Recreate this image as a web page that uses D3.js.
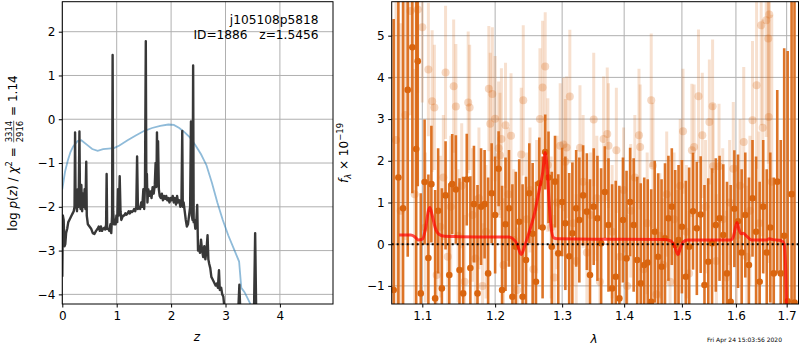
<!DOCTYPE html>
<html>
<head>
<meta charset="utf-8">
<script src="https://cdn.jsdelivr.net/npm/d3@7"></script>
<style>
  body { margin: 0; background: #fff; }
  text { font-family: "DejaVu Sans", sans-serif; }
</style>
</head>
<body>
<script>
// p(z) panel
var pzZ = [0.000,0.010,0.025,0.040,0.055,0.070,0.090,0.110,0.130,0.150,0.170,0.190,0.210,0.225,0.235,0.245,0.255,0.270,0.285,0.300,
  0.315,0.325,0.335,0.350,0.365,0.380,0.395,0.410,0.425,0.440,0.450,0.470,0.500,0.530,0.560,0.590,0.620,0.650,0.670,0.690,
  0.710,0.730,0.750,0.770,0.790,0.805,0.815,0.825,0.845,0.865,0.885,0.900,0.915,0.925,0.935,0.950,0.965,0.980,0.995,1.010,
  1.025,1.040,1.055,1.070,1.085,1.100,1.120,1.140,1.160,1.180,1.200,1.220,1.240,1.260,1.280,1.300,1.320,1.340,1.360,1.375,
  1.390,1.410,1.430,1.450,1.470,1.490,1.505,1.520,1.535,1.545,1.555,1.565,1.580,1.600,1.620,1.640,1.660,1.680,1.700,1.715,
  1.730,1.740,1.750,1.760,1.775,1.790,1.810,1.830,1.850,1.870,1.890,1.910,1.930,1.950,1.970,1.990,2.010,2.030,2.050,2.070,
  2.090,2.110,2.130,2.150,2.170,2.190,2.205,2.215,2.230,2.250,2.270,2.290,2.310,2.330,2.350,2.365,2.380,2.395,2.405,2.415,
  2.430,2.445,2.465,2.480,2.495,2.510,2.530,2.550,2.570,2.590,2.610,2.630,2.650,2.670,2.685,2.700,2.720,2.740,2.760,2.780,
  2.800,2.820,2.840,2.860,2.880,2.895,2.920,2.940,2.960,2.980,3.000,3.100,3.200,3.230,3.255,3.275,3.300,3.400,3.500,3.525,
  3.545,3.565,3.600,3.700];
var pzLog = [-3.6,-2.2,-2.3,-2.9,-2.85,-2.6,-2.5,-2.35,-2.3,-2.25,-2.2,-2.15,-2.1,-2.0,-0.3,-2.0,-1.9,-2.1,-1.6,-2.0,
  -0.28,-1.8,-2.05,-1.5,-2.1,-1.7,-2.0,-1.6,-2.05,-0.97,-2.2,-2.4,-2.45,-2.5,-2.6,-2.62,-2.55,-2.5,-2.45,-2.55,
  -2.45,-2.55,-2.5,-2.48,-2.52,-2.4,-1.25,-2.5,-2.5,-2.55,-2.4,-2.6,-2.2,1.47,-2.1,-2.4,-2.3,-2.4,-2.2,-2.35,
  -1.6,-2.2,-1.3,-2.1,-2.3,-2.25,-2.2,-2.2,-2.15,-2.18,-2.15,-2.1,-2.15,-2.1,-2.12,-2.1,-2.05,-2.1,-2.0,-0.85,
  -2.05,-2.0,-2.05,-1.9,-2.0,-1.6,-2.05,-1.5,1.78,-1.6,-1.25,-1.9,-1.6,-1.75,-1.65,-1.8,-1.55,-1.7,-1.5,-1.0,
  -1.55,-0.3,-1.3,-0.5,-1.6,-1.75,-1.8,-1.7,-1.85,-1.75,-1.82,-1.75,-1.85,-1.8,-1.9,-1.8,-1.85,-1.75,-1.9,-1.8,
  -1.95,-1.75,-1.9,-1.85,-2.0,-1.95,-0.27,-2.0,-1.9,-2.1,-2.3,-2.45,-2.4,-2.2,-2.0,-0.05,-2.2,-2.3,1.23,-2.35,
  -2.3,-2.5,-2.3,-1.96,-3.0,-2.9,-3.05,-2.75,-3.0,-3.15,-2.9,-3.2,-3.0,-2.65,-3.2,-3.3,-3.4,-3.6,-3.65,-3.7,
  -3.75,-3.8,-3.75,-3.85,-3.45,-3.9,-3.85,-4.0,-4.05,-4.3,-4.8,-5.0,-4.9,-4.5,-3.78,-4.5,-4.8,-4.9,-4.4,-4.3,
  -2.6,-4.5,-5.0,-5.5];
var priorZ = [0.00,0.05,0.10,0.15,0.20,0.28,0.35,0.45,0.55,0.65,0.75,0.85,0.95,1.05,1.20,1.35,1.50,1.65,1.80,1.95,
  2.05,2.15,2.25,2.35,2.45,2.55,2.65,2.75,2.85,2.95,3.05,3.15,3.25,3.29,3.35,3.45,3.55];
var priorLog = [-1.6,-1.2,-0.95,-0.75,-0.62,-0.5,-0.48,-0.58,-0.68,-0.72,-0.68,-0.67,-0.66,-0.6,-0.48,-0.37,-0.27,-0.2,-0.15,-0.12,
  -0.13,-0.2,-0.3,-0.42,-0.6,-0.8,-1.05,-1.45,-1.9,-2.3,-2.65,-2.95,-3.25,-3.85,-3.95,-4.2,-4.5];
var zTicks = [0, 1, 2, 3, 4];
var pzTicks = [-4, -3, -2, -1, 0, 1, 2];

// spectrum panel
var darkWave = [1.063,1.069,1.075,1.081,1.087,1.092,1.094,1.098,1.103,1.108,1.112,1.117,1.121,1.126,1.131,1.136,1.140,1.145,1.150,1.155,
  1.160,1.165,1.170,1.175,1.180,1.185,1.190,1.195,1.200,1.205,1.210,1.215,1.220,1.225,1.230,1.235,1.240,1.245,1.250,1.255,
  1.260,1.265,1.270,1.274,1.279,1.284,1.289,1.294,1.300,1.305,1.311,1.316,1.322,1.327,1.333,1.339,1.344,1.350,1.356,1.362,
  1.368,1.374,1.380,1.386,1.392,1.398,1.404,1.410,1.416,1.422,1.428,1.434,1.440,1.446,1.452,1.458,1.464,1.470,1.476,1.482,
  1.488,1.494,1.500,1.507,1.513,1.520,1.527,1.534,1.541,1.548,1.555,1.562,1.569,1.576,1.583,1.590,1.597,1.604,1.611,1.618,
  1.625,1.632,1.639,1.646,1.653,1.660,1.667,1.674,1.681,1.688,1.695,1.702,1.710,1.716];
var darkFlux = [-1.10,1.60,0.86,3.70,4.72,2.28,4.39,-1.18,1.49,-0.33,1.44,-1.30,0.80,-1.06,1.17,-0.74,1.44,1.31,-0.62,-1.18,
  1.55,-0.57,0.96,-1.18,0.90,0.96,-0.70,1.22,0.70,1.81,-1.10,0.48,0.86,-1.26,-0.06,0.54,-1.26,-0.38,1.22,0.25,
  -0.90,1.46,0.40,2.21,1.60,-0.06,1.50,-0.22,1.01,0.50,-0.29,0.26,0.86,0.58,1.17,0.78,-0.74,0.90,0.62,0.02,
  1.25,0.46,-1.06,-0.78,-1.30,0.58,-0.34,1.01,0.46,-0.38,-0.94,-0.50,-0.44,-1.38,0.30,-0.30,-0.54,0.14,0.62,0.90,
  -0.02,0.10,0.42,-0.78,-0.06,0.79,0.38,0.71,-0.98,-0.42,0.02,0.46,0.62,0.22,-0.70,-1.38,0.85,0.55,-0.20,0.70,
  -0.50,1.10,0.30,-0.90,0.90,-0.20,0.40,-0.70,1.50,-0.70,0.20,-1.37,1.20,-1.40];
var darkErr = [6.5,5.5,5.0,4.0,3.5,4.0,3.0,2.4,1.5,2.0,1.4,2.6,1.5,2.4,1.3,2.2,1.2,1.3,2.2,2.8,
  1.1,2.2,1.4,2.6,1.4,1.3,2.3,1.2,1.4,0.9,2.5,1.6,1.4,2.7,1.8,1.5,2.7,2.0,1.2,1.7,
  2.4,1.1,1.7,0.9,1.1,1.8,1.1,1.9,1.3,1.6,2.0,1.7,1.4,1.5,1.2,1.4,2.3,1.4,1.5,1.8,
  1.1,1.6,2.5,2.3,2.7,1.5,2.1,1.3,1.6,2.0,2.4,2.1,2.0,2.7,1.7,2.0,2.1,1.8,1.5,1.4,
  1.8,1.8,1.6,2.3,1.9,1.4,1.6,1.4,2.4,2.0,1.8,1.6,1.5,1.7,2.2,2.8,1.4,1.6,2.0,1.5,
  2.1,1.4,1.8,2.4,1.6,2.0,1.8,2.3,2.2,3.2,4.5,6.0,7.0,8.0];

var lightWave = [1.066,1.072,1.078,1.0846,1.090,1.094,1.100,1.104,1.108,1.113,1.116,1.119,1.124,1.128,1.131,1.134,1.138,1.142,1.145,1.148,
  1.153,1.157,1.162,1.164,1.168,1.172,1.177,1.182,1.187,1.191,1.193,1.196,1.200,1.205,1.207,1.209,1.212,1.215,1.219,1.223,
  1.227,1.232,1.238,1.241,1.246,1.251,1.256,1.261,1.266,1.270,1.274,1.278,1.283,1.288,1.292,1.297,1.302,1.305,1.307,1.312,
  1.317,1.322,1.328,1.333,1.339,1.345,1.350,1.355,1.360,1.366,1.372,1.374,1.380,1.387,1.393,1.399,1.405,1.411,1.418,1.425,
  1.427,1.433,1.439,1.446,1.449,1.455,1.461,1.467,1.473,1.479,1.486,1.492,1.497,1.502,1.508,1.513,1.518,1.522,1.530,1.537,
  1.543,1.550,1.556,1.557,1.563,1.568,1.575,1.582,1.588,1.595,1.601,1.608,1.615,1.621,1.627,1.632,1.640,1.645,1.649,1.652,
  1.659,1.663,1.664,1.665,1.670];
var lightFlux = [2.5,0.8,3.1,5.59,1.2,5.63,5.20,0.40,4.19,3.43,3.28,-0.74,0.42,1.60,4.12,-0.30,0.90,3.79,3.30,0.20,
  1.40,-0.90,3.40,3.28,0.70,-0.34,1.10,-1.00,0.30,3.73,2.89,3.60,3.01,2.30,2.13,2.52,-0.50,2.85,1.20,2.60,
  0.10,-1.10,2.15,3.45,0.60,1.30,-0.60,0.90,3.00,3.76,4.26,1.90,0.40,-0.80,1.00,2.36,2.39,1.98,2.32,3.54,
  0.50,-0.40,2.31,1.50,-0.20,0.70,2.99,1.10,-0.90,2.52,2.64,2.36,0.30,2.25,-0.30,1.30,-1.00,0.80,1.60,2.61,
  2.33,-0.60,0.50,3.45,1.89,-1.20,0.20,-0.50,1.20,-0.90,0.60,-0.20,1.40,2.71,0.30,-0.70,2.25,2.33,3.55,2.61,
  0.90,2.93,3.31,1.87,-0.40,1.87,0.60,-0.80,1.00,1.81,0.20,1.40,2.45,-0.30,0.80,2.97,3.81,0.50,5.25,2.79,
  5.37,4.93,3.05,5.51,1.50];
var lightErr = [4.0,4.5,3.0,2.5,3.0,2.0,1.8,1.8,1.6,1.7,1.5,1.6,1.7,1.5,1.6,1.5,1.7,1.6,1.5,1.6,
  1.5,1.6,1.7,1.5,1.6,1.5,1.7,1.5,1.6,1.5,1.7,1.6,1.5,1.6,1.5,1.7,1.6,1.5,1.6,1.5,
  1.7,1.5,1.6,1.8,1.6,1.5,1.7,1.6,1.7,1.6,1.3,1.6,1.7,1.5,1.6,1.5,1.6,1.5,1.7,1.6,
  1.5,1.6,1.5,1.6,1.7,1.5,1.6,1.5,1.6,1.5,1.6,1.5,1.6,1.5,1.6,1.5,1.7,1.6,1.5,1.6,
  1.5,1.6,1.7,1.6,1.5,1.6,1.5,1.6,1.5,1.7,1.6,1.5,1.6,1.5,1.6,1.5,1.6,1.5,1.6,1.5,
  1.6,1.5,1.6,1.5,1.6,1.5,1.7,1.6,1.5,1.6,1.7,1.6,1.8,1.7,1.8,1.9,2.0,2.2,2.4,2.6,
  2.8,3.0,3.5,3.5,4.0];

var modelWave = [1.070,1.085,1.090,1.095,1.100,1.104,1.108,1.110,1.113,1.117,1.122,1.130,1.150,1.200,1.220,1.225,1.232,1.238,1.243,1.250,
  1.258,1.265,1.270,1.274,1.277,1.280,1.283,1.287,1.292,1.350,1.400,1.470,1.480,1.487,1.493,1.497,1.502,1.510,1.590,1.595,
  1.600,1.602,1.606,1.610,1.614,1.620,1.630,1.660,1.665,1.672,1.690,1.695,1.698,1.700,1.702];
var modelFlux = [0.22,0.22,0.18,0.10,0.12,0.35,0.80,0.88,0.70,0.40,0.24,0.19,0.18,0.17,0.17,0.14,0.00,-0.25,-0.05,0.30,
  0.75,1.30,1.70,2.20,1.80,1.00,0.40,0.15,0.13,0.12,0.12,0.11,0.08,-0.05,-0.25,-0.10,0.05,0.10,0.10,0.18,
  0.45,0.52,0.35,0.25,0.26,0.20,0.10,0.10,0.13,0.11,0.08,0.00,-0.60,-1.60,-3.00];
var waveTicks = [1.1, 1.2, 1.3, 1.4, 1.5, 1.6, 1.7];
var fluxTicks = [-1, 0, 1, 2, 3, 4, 5];

var orange = "#d9650f",
    gridColor = "#b0b0b0";

var svg = d3.select("body").append("svg")
    .attr("width", 800)
    .attr("height", 350);

svg.append("rect").attr("width", 800).attr("height", 350).attr("fill", "#fff");

var xz = d3.scaleLinear().domain([0, 4.976]).range([62.3, 333]),
    yp = d3.scaleLinear().domain([-4.22, 2.685]).range([304, 1.7]);

var xw = d3.scaleLog().domain([1.0605, 1.7242]).range([391.7, 798.5]),
    yf = d3.scaleLinear().domain([-1.434, 5.815]).range([304, 1.7]);

var defs = svg.append("defs");
defs.append("clipPath").attr("id", "clipL").append("rect")
    .attr("x", 62.3).attr("y", 1.7).attr("width", 333 - 62.3).attr("height", 304 - 1.7);
defs.append("clipPath").attr("id", "clipR").append("rect")
    .attr("x", 391.7).attr("y", 1.7).attr("width", 798.5 - 391.7).attr("height", 304 - 1.7);

function grid(xs, ys, xTicks, yTicks) {
  var g = svg.append("g").attr("stroke", gridColor).attr("stroke-width", 1);
  xTicks.forEach(function(t) {
    g.append("line").attr("x1", xs(t)).attr("x2", xs(t)).attr("y1", ys.range()[0]).attr("y2", ys.range()[1]);
  });
  yTicks.forEach(function(t) {
    g.append("line").attr("x1", xs.range()[0]).attr("x2", xs.range()[1]).attr("y1", ys(t)).attr("y2", ys(t));
  });
}

function axes(xs, ys, xTicks, yTicks, xFmt) {
  var gx = svg.append("g")
      .attr("transform", "translate(0,304)")
      .call(d3.axisBottom(xs).tickValues(xTicks).tickSize(3.5).tickPadding(3.5).tickFormat(xFmt));
  var gy = svg.append("g")
      .attr("transform", "translate(" + xs.range()[0] + ",0)")
      .call(d3.axisLeft(ys).tickValues(yTicks).tickSize(3.5).tickPadding(3.5).tickFormat(d3.format("d")));
  [gx, gy].forEach(function(g) {
    g.attr("font-size", 12).attr("font-family", "DejaVu Sans");
    g.select(".domain").remove();
    g.selectAll("text").attr("fill", "#000");
  });
  svg.append("rect")
      .attr("x", xs.range()[0]).attr("y", ys.range()[1])
      .attr("width", xs.range()[1] - xs.range()[0])
      .attr("height", ys.range()[0] - ys.range()[1])
      .attr("fill", "none").attr("stroke", "#000").attr("stroke-width", 1);
}

// left: p(z)
grid(xz, yp, zTicks, pzTicks);

var pzPanel = svg.append("g").attr("clip-path", "url(#clipL)");

var priorLine = d3.line()
    .x(function(d, i) { return xz(priorZ[i]); })
    .y(function(d) { return yp(d); });

var pzLine = d3.line()
    .x(function(d, i) { return xz(pzZ[i]); })
    .y(function(d) { return yp(d); });

pzPanel.append("path")
    .attr("d", priorLine(priorLog))
    .attr("fill", "none")
    .attr("stroke", "#1f77b4").attr("stroke-opacity", 0.5)
    .attr("stroke-width", 1.8);

pzPanel.append("path")
    .attr("d", pzLine(pzLog))
    .attr("fill", "none")
    .attr("stroke", "#383838")
    .attr("stroke-width", 2.4)
    .attr("stroke-linejoin", "round");

axes(xz, yp, zTicks, pzTicks, d3.format("d"));

svg.append("text")
    .attr("x", 318.5).attr("y", 24)
    .attr("text-anchor", "end")
    .attr("font-size", 12.2)
    .text("j105108p5818");

svg.append("text")
    .attr("x", 318.5).attr("y", 38.5)
    .attr("text-anchor", "end")
    .attr("font-size", 12.2)
    .style("white-space", "pre")
    .text("ID=1886   z=1.5456");

svg.append("text")
    .attr("x", 197).attr("y", 341)
    .attr("text-anchor", "middle")
    .attr("font-size", 12)
    .attr("font-style", "italic")
    .text("z");

// rotated math label built piece by piece
function mathLabel(cx, cy, parts) {
  var g = svg.append("g"),
      inner = g.append("g"),
      pos = 0;
  parts.forEach(function(p) {
    if (p.frac) {
      var num = inner.append("text").attr("font-size", 8.5).attr("y", -5).text(p.frac[0]),
          den = inner.append("text").attr("font-size", 8.5).attr("y", 5.5).text(p.frac[1]);
      var w = Math.max(num.node().getComputedTextLength(), den.node().getComputedTextLength());
      num.attr("x", pos + 1 + (w - num.node().getComputedTextLength()) / 2);
      den.attr("x", pos + 1 + (w - den.node().getComputedTextLength()) / 2);
      inner.append("line").attr("x1", pos + 1).attr("x2", pos + 1 + w)
          .attr("y1", -3.3).attr("y2", -3.3).attr("stroke", "#000").attr("stroke-width", 0.6);
      pos += w + 2;
      return;
    }
    var t = inner.append("text")
        .attr("x", pos)
        .attr("y", p.dy || 0)
        .attr("font-size", p.size || 12)
        .attr("font-style", p.it ? "italic" : "normal")
        .style("white-space", "pre")
        .text(p.t);
    pos += t.node().getComputedTextLength();
  });
  inner.attr("transform", "translate(" + (-pos / 2) + ",0)");
  g.attr("transform", "translate(" + cx + "," + cy + ")rotate(-90)");
}

mathLabel(17, 153, [
  {t: "log "}, {t: "p", it: true}, {t: "("}, {t: "z", it: true}, {t: ") / "},
  {t: "\u03c7", it: true}, {t: "2", size: 8.5, dy: -5}, {t: " = "},
  {frac: ["3314", "2916"]}, {t: " = 1.14"}
]);

// right: spectrum
grid(xw, yf, waveTicks, fluxTicks);

var specPanel = svg.append("g").attr("clip-path", "url(#clipR)");

var lightG = specPanel.append("g");
lightWave.forEach(function(w, i) {
  lightG.append("line")
      .attr("x1", xw(w)).attr("x2", xw(w))
      .attr("y1", yf(lightFlux[i] - lightErr[i])).attr("y2", yf(lightFlux[i] + lightErr[i]))
      .attr("stroke", orange).attr("stroke-opacity", 0.2).attr("stroke-width", 3);
});
lightG.selectAll("circle")
    .data(lightFlux)
    .enter().append("circle")
    .attr("cx", function(d, i) { return xw(lightWave[i]); })
    .attr("cy", function(d) { return yf(d); })
    .attr("r", 4)
    .attr("fill", orange).attr("fill-opacity", 0.25);

var darkG = specPanel.append("g");
darkWave.forEach(function(w, i) {
  darkG.append("line")
      .attr("x1", xw(w)).attr("x2", xw(w))
      .attr("y1", yf(darkFlux[i] - darkErr[i])).attr("y2", yf(darkFlux[i] + darkErr[i]))
      .attr("stroke", orange).attr("stroke-opacity", 0.9).attr("stroke-width", 2.6);
});
darkG.selectAll("circle")
    .data(darkFlux)
    .enter().append("circle")
    .attr("cx", function(d, i) { return xw(darkWave[i]); })
    .attr("cy", function(d) { return yf(d); })
    .attr("r", 3.3)
    .attr("fill", orange);

var modelLine = d3.line()
    .curve(d3.curveMonotoneX)
    .x(function(d, i) { return xw(modelWave[i]); })
    .y(function(d) { return yf(d); });

specPanel.append("path")
    .attr("d", modelLine(modelFlux))
    .attr("fill", "none")
    .attr("stroke", "red").attr("stroke-opacity", 0.7)
    .attr("stroke-width", 3);

specPanel.append("line")
    .attr("x1", 391.7).attr("x2", 798.5)
    .attr("y1", yf(0)).attr("y2", yf(0))
    .attr("stroke", "#000").attr("stroke-width", 2)
    .attr("stroke-dasharray", "2,3");

axes(xw, yf, waveTicks, fluxTicks, d3.format(".1f"));

svg.append("text")
    .attr("x", 594).attr("y", 343)
    .attr("text-anchor", "middle")
    .attr("font-size", 12)
    .attr("font-style", "italic")
    .text("\u03bb");

mathLabel(348, 153, [
  {t: "f", it: true}, {t: "\u03bb", it: true, size: 8.5, dy: 3}, {t: " \u00d7 10"},
  {t: "\u221219", size: 8.5, dy: -5}
]);

svg.append("text")
    .attr("x", 744.5).attr("y", 342)
    .attr("text-anchor", "middle")
    .attr("font-size", 6)
    .text("Fri Apr 24 15:03:56 2020");
</script>
</body>
</html>
